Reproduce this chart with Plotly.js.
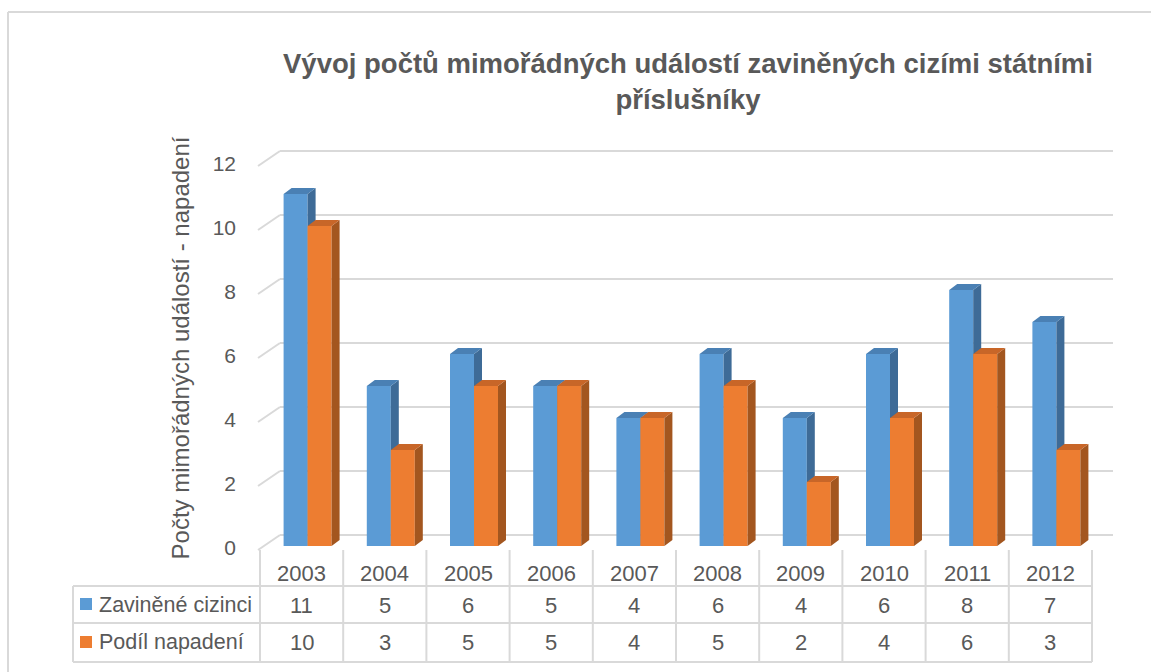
<!DOCTYPE html>
<html>
<head>
<meta charset="utf-8">
<script src="https://cdn.plot.ly/plotly-3.0.1.min.js"></script>
<style>html,body{margin:0;padding:0;background:#fff;}#chart{width:1151px;height:672px;}</style>
</head>
<body>
<div id="chart"></div>
<script>
// ---- data ----
const years = ['2003','2004','2005','2006','2007','2008','2009','2010','2011','2012'];
const seriesNames = ['Zaviněné cizinci','Podíl napadení'];
const zavinene = [11,5,6,5,4,6,4,6,8,7];
const podil = [10,3,5,5,4,5,2,4,6,3];
const yTickVals = [0,2,4,6,8,10,12];
const yTickText = ['0','2','4','6','8','10','12'];
const titleText = 'Vývoj počtů mimořádných událostí zaviněných cizími státními<br>příslušníky';
const yTitleText = 'Počty mimořádných událostí - napadení';

// ---- geometry / style ----
const W = 1151, H = 672;
const ML = 250, MR = 38, MT = 140, MB = 116;
const UX = 83.2;   // px per category
const UY = 32;     // px per value unit
const plotW = W - ML - MR, plotH = H - MT - MB;
const xMin = -0.5 - (260 - ML) / UX;
const xMax = xMin + plotW / UX;
const yMin = -10 / UY;
const yMax = yMin + plotH / UY;
const DX = 8 / UX, DY = 6 / UY;   // bar depth
const TXT = '#595959', GRID = '#d9d9d9';
const FONT = 'Liberation Sans, Arial, sans-serif';

const colors = [
  {front:'#5B9BD5', side:'#3E6B97', top:'#4A80B4'},
  {front:'#ED7D31', side:'#A3561F', top:'#C86628'}
];
const offsets = [[-18/UX, 6/UX],[6/UX, 30/UX]];

function px(p){ return (p - ML) / plotW; }
function py(p){ return (H - MB - p) / plotH; }

function faceTraces(vals, off, col, name){
  const fx=[],fy=[],sx=[],sy=[],tx=[],ty=[];
  vals.forEach((v,i)=>{
    const a = i + off[0], b = i + off[1];
    fx.push(a,b,b,a,a,null); fy.push(0,0,v,v,0,null);
    sx.push(b,b+DX,b+DX,b,b,null); sy.push(0,DY,v+DY,v,0,null);
    tx.push(a,b,b+DX,a+DX,a,null); ty.push(v,v,v+DY,v+DY,v,null);
  });
  const base = {type:'scatter',mode:'lines',fill:'toself',line:{width:0},showlegend:false,hoverinfo:'skip',name:name};
  return [
    Object.assign({},base,{x:fx,y:fy,fillcolor:col.front}),
    Object.assign({},base,{x:sx,y:sy,fillcolor:col.side}),
    Object.assign({},base,{x:tx,y:ty,fillcolor:col.top})
  ];
}

const traces = [
  ...faceTraces(zavinene, offsets[0], colors[0], seriesNames[0]),
  ...faceTraces(podil, offsets[1], colors[1], seriesNames[1])
];

const shapes = [];
// outer frame
shapes.push({type:'line',xref:'paper',yref:'paper',x0:px(8),x1:px(W),y0:py(12),y1:py(12),line:{color:GRID,width:2},layer:'below'});
shapes.push({type:'line',xref:'paper',yref:'paper',x0:px(8),x1:px(8),y0:py(12),y1:py(H),line:{color:GRID,width:2},layer:'below'});
// 3D gridlines (back wall + left diagonal)
const backX0 = -0.5 + 20/UX, frontX = -0.5 - 2/UX;
yTickVals.forEach(v=>{
  shapes.push({type:'line',xref:'x',yref:'y',x0:backX0,x1:xMax,y0:v+11/UY,y1:v+11/UY,line:{color:GRID,width:2},layer:'below'});
  shapes.push({type:'line',xref:'x',yref:'y',x0:frontX,x1:backX0,y0:v-4/UY,y1:v+11/UY,line:{color:GRID,width:2},layer:'below'});
});
// data table lines
const tblTop = 550, r1 = 586, r2 = 623, r3 = 662, tblLeft = 73;
for(let k=0;k<=years.length;k++){
  const xp = 260 + UX*k;
  shapes.push({type:'line',xref:'paper',yref:'paper',x0:px(xp),x1:px(xp),y0:py(tblTop),y1:py(r3),line:{color:GRID,width:2}});
}
shapes.push({type:'line',xref:'paper',yref:'paper',x0:px(tblLeft),x1:px(tblLeft),y0:py(r1),y1:py(r3),line:{color:GRID,width:2}});
[r1,r2,r3].forEach(r=>{
  shapes.push({type:'line',xref:'paper',yref:'paper',x0:px(tblLeft),x1:px(260+UX*years.length),y0:py(r),y1:py(r),line:{color:GRID,width:2}});
});
// legend keys in table
[[604,colors[0].front],[642,colors[1].front]].forEach(([yc,c])=>{
  shapes.push({type:'rect',xref:'paper',yref:'paper',x0:px(80),x1:px(92),y0:py(yc+6),y1:py(yc-6),fillcolor:c,line:{width:0}});
});

const annotations = [];
const tf = {family:FONT,size:22,color:TXT};
const lf = {family:FONT,size:21.5,color:TXT};
years.forEach((yr,i)=>{
  annotations.push({xref:'x',yref:'paper',x:i,y:py(573),text:yr,showarrow:false,font:tf,xanchor:'center',yanchor:'middle'});
  annotations.push({xref:'x',yref:'paper',x:i,y:py(605),text:String(zavinene[i]),showarrow:false,font:tf,xanchor:'center',yanchor:'middle'});
  annotations.push({xref:'x',yref:'paper',x:i,y:py(642),text:String(podil[i]),showarrow:false,font:tf,xanchor:'center',yanchor:'middle'});
});
annotations.push({xref:'paper',yref:'paper',x:px(97),y:py(605),text:seriesNames[0],showarrow:false,font:lf,xanchor:'left',yanchor:'middle'});
annotations.push({xref:'paper',yref:'paper',x:px(97),y:py(642),text:seriesNames[1],showarrow:false,font:lf,xanchor:'left',yanchor:'middle'});

const layout = {
  width:W, height:H,
  margin:{l:ML,r:MR,t:MT,b:MB,pad:0},
  paper_bgcolor:'#ffffff', plot_bgcolor:'rgba(0,0,0,0)',
  hovermode:false, showlegend:false,
  font:{family:FONT,color:TXT},
  title:{text:titleText,font:{family:FONT,size:27.5,color:TXT,weight:'bold'},x:(688)/W,xanchor:'center',y:1-73/H,yanchor:'middle'},
  xaxis:{range:[xMin,xMax],showgrid:false,zeroline:false,showticklabels:false,ticks:'',showline:false,fixedrange:true},
  yaxis:{range:[yMin,yMax],showgrid:false,zeroline:false,showline:false,ticks:'',
    tickvals:yTickVals,ticktext:yTickText,tickfont:{family:FONT,size:21,color:TXT},
    ticklabelstandoff:13,ticklabelshift:2,fixedrange:true,
    title:{text:yTitleText,font:{family:FONT,size:24,color:TXT},standoff:16}},
  shapes:shapes,
  annotations:annotations
};

Plotly.newPlot('chart',traces,layout,{displayModeBar:false,staticPlot:true});
</script>
</body>
</html>
